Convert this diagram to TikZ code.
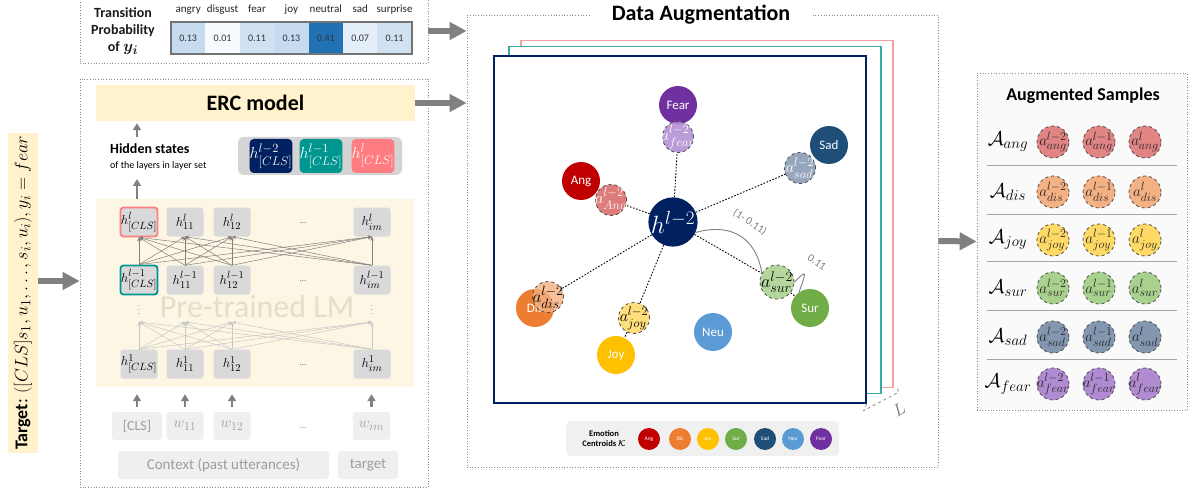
\RequirePackage{fix-cm}
\documentclass[tikz,border=0pt]{standalone}
\usepackage{amsmath}
\usepackage{fontspec}
\setmainfont{Carlito}
\usetikzlibrary{arrows.meta,calc}
\DeclareMathSizes{11}{11}{8.5}{7}
\DeclareMathSizes{13}{13}{10.5}{8}
\DeclareMathSizes{14}{14}{11}{9}
\DeclareMathSizes{15}{15}{12}{9.5}
\DeclareMathSizes{16}{16}{12.5}{10}
\DeclareMathSizes{17}{17}{13.5}{10.5}
\DeclareMathSizes{18}{18}{14}{11}
\DeclareMathSizes{20}{20}{15}{12}
\DeclareMathSizes{25}{25}{19}{15}

\definecolor{agray}{HTML}{808080}
\definecolor{ercyel}{HTML}{FFF2CC}
\definecolor{lmyel}{HTML}{FDF6E4}
\definecolor{nodegray}{HTML}{D9D9D9}
\definecolor{hsgray}{HTML}{D4D4D4}
\definecolor{inpgray}{HTML}{EFEFEF}
\definecolor{wmark}{HTML}{E6DDCB}
\definecolor{navy}{HTML}{002060}
\definecolor{teal2}{HTML}{009690}
\definecolor{salmon}{HTML}{FF7C80}
\definecolor{frsalmon}{HTML}{F4A09C}
\definecolor{frteal}{HTML}{3AA8A6}
\definecolor{cAng}{HTML}{C00000}
\definecolor{cDis}{HTML}{ED7D31}
\definecolor{cJoy}{HTML}{FFC000}
\definecolor{cSur}{HTML}{70AD47}
\definecolor{cSad}{HTML}{1F4E79}
\definecolor{cNeu}{HTML}{5B9BD5}
\definecolor{cFear}{HTML}{7030A0}
\definecolor{aAng}{HTML}{D96666}
\definecolor{sAng}{HTML}{E08484}
\definecolor{aDis}{HTML}{F4B183}
\definecolor{aJoy}{HTML}{FFD966}
\definecolor{aSur}{HTML}{A9D18E}
\definecolor{aSad}{HTML}{8497B0}
\definecolor{aFear}{HTML}{B08BD2}
\definecolor{leggray}{HTML}{F0F0F0}
\definecolor{augbg}{HTML}{FAFAFA}
\definecolor{tc1}{HTML}{C6DBEF}
\definecolor{tc2}{HTML}{F7FBFF}
\definecolor{tc3}{HTML}{D0E1F2}
\definecolor{tc4}{HTML}{C6DBEF}
\definecolor{tc5}{HTML}{2171B5}
\definecolor{tc6}{HTML}{E3EEF9}
\definecolor{tc7}{HTML}{D0E1F2}

\newcommand\fsz[2]{\fontsize{#1}{#2}\selectfont}
\newcommand\zb[1]{\makebox[0pt]{#1}}

\tikzset{
  dotbox/.style={draw=black!45, dotted, line width=0.7pt, inner sep=0pt},
  bigarrow/.style={draw=agray, line width=6pt, -{Triangle[length=17pt,width=17pt]}},
  smallarrow/.style={draw=agray, line width=2.5pt, -{Triangle[length=7pt,width=8pt]}},
  xconn/.style={draw=black!50, line width=0.5pt, -{Stealth[length=4pt,width=3.5pt]}},
  xconnfaint/.style={draw=black!22, line width=0.5pt, -{Stealth[length=4pt,width=3.5pt]}},
  hnode/.style={fill=nodegray, rounded corners=3pt, minimum width=37pt, minimum height=29pt, inner sep=0pt, font=\fsz{13}{13}},
  hsq/.style={rounded corners=4pt, minimum width=42pt, minimum height=34pt, inner sep=0pt, text=white, font=\fsz{16}{16}},
  inp/.style={fill=inpgray, rounded corners=3pt, minimum height=28pt, inner sep=0pt, text=black!38, font=\fsz{14}{14}},
  xcell/.style={minimum width=34.4pt, minimum height=32pt, inner sep=0pt, font=\fsz{10}{10}, text=black!80},
  hdr/.style={font=\fsz{11}{11}, text=black!85, text height=8pt, text depth=2pt, inner sep=0pt},
  dframe/.style={fill=white, line width=1.3pt, minimum width=372pt, minimum height=347pt, inner sep=0pt},
  cent/.style={circle, minimum size=38pt, inner sep=0pt, text=white, font=\fsz{13}{13}},
  aug/.style={circle, minimum size=31pt, inner sep=0pt, draw=black!70, dashed, line width=0.8pt, fill opacity=0.85, text opacity=1, font=\fsz{16}{16}},
  xlink/.style={draw=black, dash pattern=on 1.6pt off 1.6pt, line width=0.9pt},
  samp/.style={circle, minimum size=32pt, inner sep=0pt, draw=black!70, dashed, line width=0.8pt, text=black!85, font=\fsz{15}{15}},
  leg/.style={circle, minimum size=22pt, inner sep=0pt, text=white, font=\fsz{5.5}{6}},
}

\begin{document}
\begin{tikzpicture}[x=1pt,y=-1pt]
\useasboundingbox[fill=white] (0,0) rectangle (1192,492);

% ---------------- top transition box
\node[dotbox, minimum width=348pt, minimum height=70pt] (topbox) at (254,28) {};
\node[font=\fsz{14}{17}\bfseries, align=center, text=black!90] (tpt) at (123,31) {Transition\\Probability\\of {\fsz{16}{17}\boldmath$y_i$}};
\foreach \v/\c/\h [count=\i from 0] in {0.13/tc1/angry,0.01/tc2/disgust,0.11/tc3/fear,0.13/tc4/joy,0.41/tc5/neutral,0.07/tc6/sad,0.11/tc7/surprise}{
  \node[xcell, fill=\c] (cell\i) at ({188.2+34.4*\i},38) {\v};
  \node[hdr] (hd\i) at ({188.2+34.4*\i},10) {\h};
}
\draw[line width=2.5pt, draw=black!55] (cell0.north west) rectangle (cell6.south east);

% ---------------- left model box
\node[dotbox, minimum width=348pt, minimum height=408pt] (lmbox) at (254,283) {};
\node[fill=ercyel, minimum width=319pt, minimum height=36pt, font=\fsz{22}{22}\bfseries] (erc) at (255.5,103) {ERC model};

\node[anchor=west, font=\fsz{14}{14}\bfseries, inner sep=0pt] (hs) at (110,149) {Hidden states};
\node[anchor=west, font=\fsz{10}{10}, inner sep=0pt] (hs2) at (110,166) {of the layers in layer set};
\node[fill=hsgray, rounded corners=6pt, minimum width=164pt, minimum height=38pt] (hsbox) at (320,156) {};
\node[hsq, fill=navy] (hq0) at (271,156) {$h^{l-2}_{[CLS]}$};
\node[hsq, fill=teal2] (hq1) at (321,156) {$h^{l-1}_{[CLS]}$};
\node[hsq, fill=salmon] (hq2) at (373,156) {$h^{l}_{[CLS]}$};

\node[fill=lmyel, minimum width=318pt, minimum height=188pt, inner sep=0pt] (lm) at (255,293) {};
\node[text=wmark, font=\fsz{32}{32}] (wm) at (257,307) {Pre-trained LM};

\coordinate (hsA) at (137,137);
\draw[smallarrow, shorten >=2pt] (hsA) -- (hsA |- erc.south);
\coordinate (hsB) at (137,179);
\draw[smallarrow] (hsB |- lm.north) -- (hsB);

\node[hnode, draw=salmon, line width=1.8pt] (t0) at (139,222) {$h^{l}_{[CLS]}$};
\node[hnode] (t1) at (185,222) {$h^{l}_{11}$};
\node[hnode] (t2) at (232,222) {$h^{l}_{12}$};
\node[hnode] (t3) at (372,222) {$h^{l}_{im}$};
\node[hnode, draw=teal2, line width=1.8pt] (m0) at (139,280) {$h^{l-1}_{[CLS]}$};
\node[hnode] (m1) at (185,280) {$h^{l-1}_{11}$};
\node[hnode] (m2) at (232,280) {$h^{l-1}_{12}$};
\node[hnode] (m3) at (372,280) {$h^{l-1}_{im}$};
\node[hnode] (b0) at (139,364) {$h^{1}_{[CLS]}$};
\node[hnode] (b1) at (185,364) {$h^{1}_{11}$};
\node[hnode] (b2) at (232,364) {$h^{1}_{12}$};
\node[hnode] (b3) at (372,364) {$h^{1}_{im}$};
\node[text=black!55, font=\fsz{9}{9}] (td) at (303,223) {...};
\node[text=black!55, font=\fsz{9}{9}] (md) at (303,281) {...};
\node[text=black!55, font=\fsz{9}{9}] (bd) at (303,365) {...};
\node[text=black!45, font=\fsz{8}{8}] (vd0) at (139,307) {$\vdots$};
\node[text=black!45, font=\fsz{8}{8}] (vd1) at (372,307) {$\vdots$};

\foreach \a in {0,...,3}{\foreach \b in {0,...,3}{\draw[xconn] (m\a.north) -- (t\b.south);}}
\coordinate (d0) at (139,322);
\coordinate (d1) at (185,322);
\coordinate (d2) at (232,322);
\coordinate (d3) at (372,322);
\foreach \a in {0,...,3}{\foreach \b in {0,...,3}{\draw[xconnfaint] (b\a.north) -- (d\b);}}

\node[inp, minimum width=50pt] (i0) at (137,426) {[CLS]};
\node[inp, minimum width=37pt, font=\fsz{15}{15}] (i1) at (185,426) {$w_{11}$};
\node[inp, minimum width=37pt, font=\fsz{15}{15}] (i2) at (232,426) {$w_{12}$};
\node[inp, minimum width=37pt, font=\fsz{15}{15}] (i3) at (371.5,426) {$w_{im}$};
\node[text=black!45, font=\fsz{9}{9}] (idots) at (303,428) {...};
\foreach \a in {0,...,3}{\draw[smallarrow, shorten <=5pt, shorten >=7pt] (i\a.north) -- (i\a.north |- lm.south);}
\node[inp, minimum width=211pt, font=\fsz{15}{15}] (ctx) at (223.5,465) {Context (past utterances)};
\node[inp, minimum width=60pt, font=\fsz{15}{15}] (tgt) at (368,465) {target};

% ---------------- target label
\node[rotate=90, fill=ercyel, minimum width=320pt, minimum height=30pt, inner sep=0pt, font=\fsz{18}{18}] (target) at (23,293) {\textbf{Target}: $([CLS]s_1,u_1,\dots,s_i,u_i),y_i=fear$};

% ---------------- data augmentation
\node[dotbox, minimum width=471pt, minimum height=452pt] (dabox) at (702.5,241) {};
\node[fill=white, inner xsep=22pt, inner ysep=2pt, font=\fsz{22}{22}\bfseries] (datitle) at (701,15) {Data Augmentation};

\node[dframe, draw=frsalmon] (fr3) at (707,214) {};
\node[dframe, draw=frteal] (fr2) at (695,220) {};
\node[dframe, draw=navy] (fr1) at (680,229.5) {};
\draw[draw=black!45, dashed, line width=0.8pt] (fr1.south east) -- ++(-3,7) -- ($(fr3.south east)+(5,4)$) -- ($(fr3.south east)+(3,-2)$);
\node[rotate=30, text=black!55, font=\fsz{17}{17}] (Llab) at (899,410) {$L$};

\node[cent, fill=cFear] (Fear) at (678,105) {Fear};
\node[cent, fill=cSad] (Sad) at (829,145) {Sad};
\node[cent, fill=cAng] (Ang) at (581,181) {Ang};
\node[cent, fill=cDis] (Dis) at (535,308) {Dis};
\node[cent, fill=cJoy] (Joy) at (616,355) {Joy};
\node[cent, fill=cNeu] (Neu) at (713,332) {Neu};
\node[cent, fill=cSur] (Sur) at (810,308) {Sur};
\node[circle, fill=navy, minimum size=46pt, inner sep=0pt, text=white, font=\fsz{25}{25}] (h) at (673,222) {$h^{l-2}$};

\node[aug, fill=aFear, text=white] (afear) at (678,137) {\zb{$a^{l-2}_{fear}$}};
\node[aug, fill=aSad, text=white] (asad) at (800,168) {\zb{$a^{l-2}_{sad}$}};
\node[aug, fill=aAng, text=white] (aang) at (611,200) {\zb{$a^{l-2}_{Ang}$}};
\node[aug, fill=aDis, text=black, fill opacity=0.8, font=\fsz{17}{17}] (adis) at (548,297) {\zb{$a^{l-2}_{dis}$}};
\node[aug, fill=aJoy, text=black] (ajoy) at (634,318) {\zb{$a^{l-2}_{joy}$}};
\node[aug, fill=aSur, text=black, font=\fsz{18}{18}, minimum size=34pt] (asur) at (777,282) {\zb{$a^{l-2}_{sur}$}};

\foreach \n in {afear,asad,aang,adis,ajoy,asur}{\draw[xlink] (h) -- (\n);}
\draw[xlink] (ajoy) -- (Joy);
\draw[xlink] (asur) -- (Sur);

\draw[draw=black!50, line width=0.9pt] (h.-25) .. controls (725,224) and (755,232) .. (asur.150);
\node[rotate=-33, text=black!50, font=\fsz{11}{11}] (lab1) at (750,222) {(1- 0.11)};
\draw[draw=black!50, line width=0.9pt] (asur.east) .. controls (807,270) and (807,270) .. (Sur.125);
\node[rotate=-35, text=black!50, font=\fsz{11}{11}] (lab2) at (817,262) {0.11};

\node[fill=leggray, rounded corners=5pt, minimum width=273pt, minimum height=35pt] (legbox) at (702.5,438.5) {};
\node[font=\fsz{8.5}{10}\bfseries, align=center] (legtxt) at (604,439) {Emotion\\Centroids $\boldsymbol{\mathcal{K}}$};
\foreach \c/\t/\x in {cAng/Ang/649,cDis/Dis/680,cJoy/Joy/708,cSur/Sur/736,cSad/Sad/765,cNeu/Neu/793,cFear/Fear/821}{
  \node[leg, fill=\c] (leg\t) at (\x,439) {\t};
}

% ---------------- augmented samples
\node[dotbox, fill=augbg, minimum width=210pt, minimum height=337pt] (augbox) at (1082,241.5) {};
\node[font=\fsz{18}{18}\bfseries] (augtitle) at (1083,96) {Augmented Samples};
\foreach \y in {165,214,261,310,359}{\draw[draw=black!35, line width=0.8pt] (987,\y) -- (1177,\y);}
\foreach \e/\c/\y [count=\r from 1] in {ang/sAng/142,dis/aDis/192,joy/aJoy/240,sur/aSur/288,sad/aSad/337,fear/aFear/384}{
  \node[font=\fsz{20}{20}] (lab\r) at (1008,\y) {$\mathcal{A}_{\e}$};
  \node[samp, fill=\c] (sa\r) at (1053,\y) {\zb{$a^{l-2}_{\e}$}};
  \node[samp, fill=\c] (sb\r) at (1099,\y) {\zb{$a^{l-1}_{\e}$}};
  \node[samp, fill=\c] (sc\r) at (1145,\y) {\zb{$a^{l}_{\e}$}};
}

% ---------------- big arrows
\coordinate (y31) at (0,31);
\coordinate (y281) at (0,281);
\draw[bigarrow] (topbox.east |- y31) -- (dabox.west |- y31);
\draw[bigarrow] (erc.east) -- (erc.east -| dabox.west);
\draw[bigarrow] (target.south |- y281) -- (lmbox.west |- y281);
\draw[bigarrow] (dabox.east) -- (augbox.west);
\end{tikzpicture}
\end{document}
